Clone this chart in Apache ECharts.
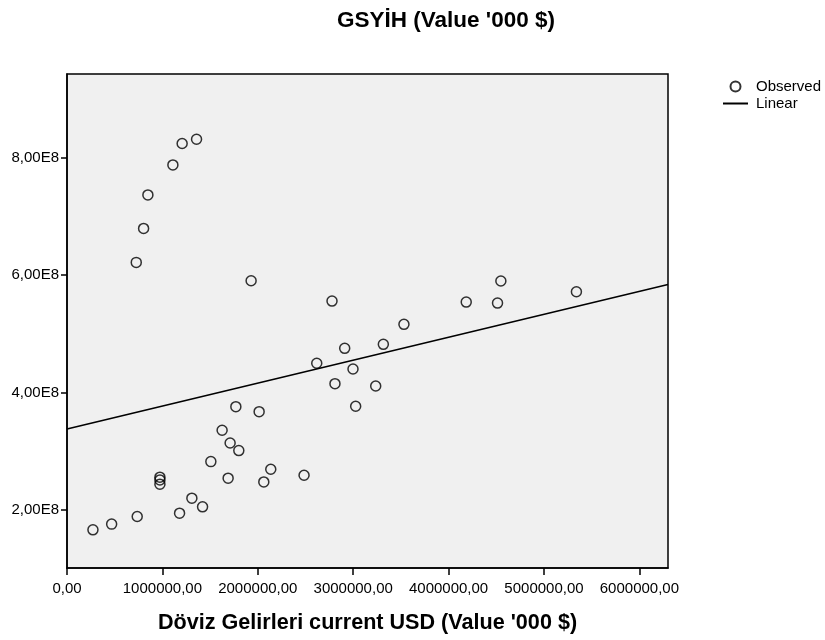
<!DOCTYPE html>
<html>
<head>
<meta charset="utf-8">
<script src="https://cdn.jsdelivr.net/npm/echarts@6/dist/echarts.min.js"></script>
<style>
html,body{margin:0;padding:0;background:#fff;}
#chart{width:825px;height:640px;}
</style>
</head>
<body>
<div id="chart"></div>
<script>
// Observed values: Döviz Gelirleri (x) and GSYİH (y)
var obsX = [272000, 468000, 736000, 1180000, 1421000, 1309000, 974000, 974000, 974000, 1508000,
            1689000, 1626000, 1710000, 1801000, 1770000, 2014000, 2063000, 2136000, 2485000, 2618000,
            2809000, 3026000, 2998000, 2911000, 3236000, 3316000, 2778000, 3532000, 4185000, 4513000,
            4548000, 5340000, 726000, 803000, 848000, 1110000, 1207000, 1358000, 1930000];
var obsY = [1.660e8, 1.757e8, 1.886e8, 1.944e8, 2.051e8, 2.199e8, 2.556e8, 2.510e8, 2.437e8, 2.821e8,
            2.539e8, 3.355e8, 3.139e8, 3.009e8, 3.757e8, 3.672e8, 2.476e8, 2.692e8, 2.590e8, 4.495e8,
            4.148e8, 3.764e8, 4.398e8, 4.750e8, 4.109e8, 4.818e8, 5.554e8, 5.158e8, 5.537e8, 5.520e8,
            5.895e8, 5.713e8, 6.213e8, 6.791e8, 7.362e8, 7.872e8, 8.236e8, 8.310e8, 5.900e8];
// Linear fit line end points
var fitX = [0, 6300000];
var fitY = [3.378e8, 5.837e8];
// Tick values
var xTicks = [0, 1000000, 2000000, 3000000, 4000000, 5000000, 6000000];
var yTicks = [200000000, 400000000, 600000000, 800000000];

var obsData = obsX.map(function (x, i) { return [x, obsY[i]]; });
var fitData = fitX.map(function (x, i) { return [x, fitY[i]]; });

var FONT = "'Liberation Sans', Arial, sans-serif";
var chart = echarts.init(document.getElementById('chart'));
chart.setOption({
  animation: false,
  backgroundColor: '#ffffff',
  title: {
    text: "GSYİH (Value '000 $)",
    left: 332, top: 4,
    textStyle: { fontFamily: FONT, fontSize: 22.5, fontWeight: 'bold', color: '#000' }
  },
  legend: {
    orient: 'vertical',
    left: 722, top: 79, padding: 0,
    itemWidth: 25, itemHeight: 10, itemGap: 2,
    textStyle: { fontFamily: FONT, fontSize: 15, color: '#000', padding: [0, 0, 0, 3] },
    data: [
      { name: 'Observed' },
      { name: 'Linear', itemStyle: { color: 'rgba(0,0,0,0)', borderColor: 'rgba(0,0,0,0)', borderWidth: 0 } }
    ]
  },
  grid: {
    left: 67, right: 157, top: 74, bottom: 72,
    show: true, backgroundColor: '#f0f0f0', borderColor: '#000', borderWidth: 1.5
  },
  xAxis: {
    type: 'value', min: 0, max: 6300000,
    name: "Döviz Gelirleri current USD (Value '000 $)",
    nameLocation: 'middle', nameGap: 44,
    nameTextStyle: { fontFamily: FONT, fontSize: 21.6, fontWeight: 'bold', color: '#000' },
    axisLine: { show: true, lineStyle: { color: '#000', width: 1.5 } },
    axisTick: { show: true, length: 7, customValues: xTicks, lineStyle: { color: '#000', width: 1.5 } },
    axisLabel: {
      customValues: xTicks, margin: 13,
      fontFamily: FONT, fontSize: 15, color: '#000',
      formatter: function (v) { return v.toFixed(2).replace('.', ','); }
    },
    splitLine: { show: false }
  },
  yAxis: {
    type: 'value', min: 101000000, max: 942000000,
    axisLine: { show: true, lineStyle: { color: '#000', width: 1.5 } },
    axisTick: { show: true, length: 6, customValues: yTicks, lineStyle: { color: '#000', width: 1.5 } },
    axisLabel: {
      customValues: yTicks, margin: 8,
      fontFamily: FONT, fontSize: 15, color: '#000',
      formatter: function (v) { return (v / 1e8).toFixed(2).replace('.', ',') + 'E8'; }
    },
    splitLine: { show: false }
  },
  series: [
    {
      name: 'Observed', type: 'scatter', data: obsData,
      symbol: 'circle', symbolSize: 10,
      itemStyle: { color: 'rgba(0,0,0,0)', borderColor: '#000', borderWidth: 1.5 }
    },
    {
      name: 'Linear', type: 'line', data: fitData,
      symbol: 'none',
      lineStyle: { color: '#000', width: 1.6 },
      itemStyle: { color: '#000' }
    }
  ]
});
</script>
</body>
</html>
